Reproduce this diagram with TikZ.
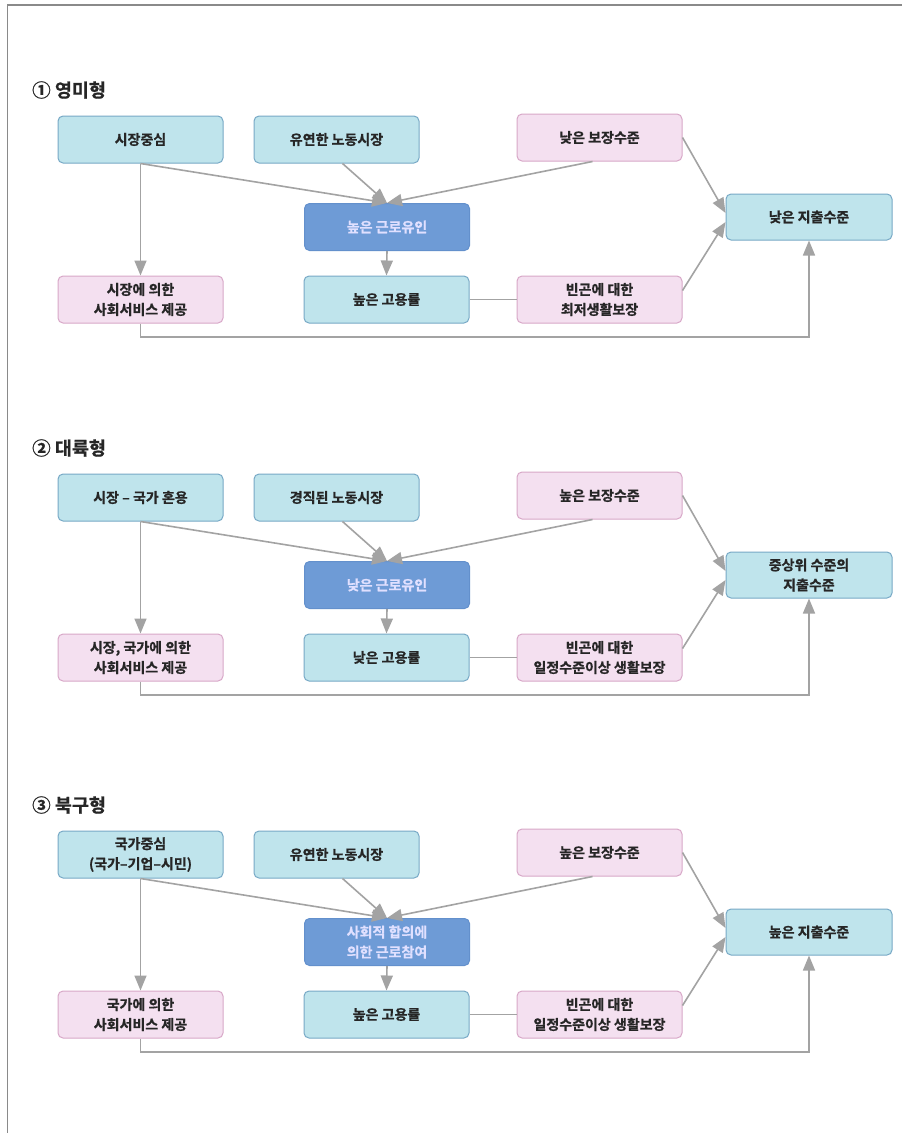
\documentclass[tikz,border=0pt]{standalone}
\usepackage{fontspec}
\setmainfont{Noto Sans CJK KR Bold}[FakeBold=0.8]
\usetikzlibrary{arrows.meta}
\definecolor{cyanfill}{HTML}{BFE4EC}
\definecolor{cyanline}{HTML}{78A9C6}
\definecolor{pinkfill}{HTML}{F4E0F0}
\definecolor{pinkline}{HTML}{D8A8C8}
\definecolor{bluefill}{HTML}{6E9BD6}
\definecolor{blueline}{HTML}{6390CC}
\definecolor{arrowgray}{HTML}{A3A3A3}
\definecolor{txt}{HTML}{262626}
\definecolor{framegray}{HTML}{8A8A8A}
\tikzset{
 box/.style={rounded corners=5pt, minimum width=165pt, minimum height=47pt, align=center,
   font=\fontsize{14}{20}\selectfont, text=txt, line width=1pt, inner sep=2pt},
 cbox/.style={box, fill=cyanfill, draw=cyanline},
 pbox/.style={box, fill=pinkfill, draw=pinkline},
 dbox/.style={box, fill=bluefill, draw=blueline, text=white!88!blue},
 conn/.style={draw=arrowgray, line width=1.6pt},
 arr/.style={conn, -{Triangle[width=12pt,length=15pt]}},
 ttl/.style={anchor=west, font=\fontsize{18.5}{20}\selectfont, text=txt, inner sep=0pt}
}
\begin{document}
\begin{tikzpicture}[x=1pt,y=-1pt]
\useasboundingbox (0,0) rectangle (902,1133);
\fill[white] (0,0) rectangle (902,1133);
\draw[framegray, line width=1.2pt] (902,5) -- (7.5,5) -- (7.5,1133);

% ---------- Panel 1 ----------
\begin{scope}
\node[ttl] (t1) at (32,90) {① 영미형};
\node[cbox] (a1) at (140.5,139.5) {시장중심};
\node[cbox] (b1) at (336.5,139.5) {유연한 노동시장};
\node[pbox] (c1) at (599.5,137.5) {낮은 보장수준};
\node[dbox] (d1) at (387,227) {높은 근로유인};
\node[cbox] (e1) at (386.5,299.5) {높은 고용률};
\node[pbox] (f1) at (140.5,299.5) {시장에 의한\\사회서비스 제공};
\node[pbox] (g1) at (599.5,299.5) {빈곤에 대한\\최저생활보장};
\node[cbox, minimum width=166pt, minimum height=46pt] (h1) at (809,217) {낮은 지출수준};
\coordinate (k1) at (809,337);
\draw[arr] (a1.south) -- (d1.north);
\draw[arr] ([xshift=6pt]b1.south) -- (d1.north);
\draw[arr] ([xshift=-7pt]c1.south) -- (d1.north);
\draw[arr] (a1.south) -- (f1.north);
\draw[arr] (d1.south) -- (e1.north);
\draw[conn] (e1.east) -- (g1.west);
\draw[arr] (c1.east) -- ([yshift=4pt]h1.west);
\draw[arr] ([yshift=9pt]g1.east) -- ([yshift=-5pt]h1.west);
\draw[arr] (f1.south) |- (k1) -- (h1.south);
\end{scope}

% ---------- Panel 2 ----------
\begin{scope}[shift={(0,358)}]
\node[ttl] (t2) at (32,90) {② 대륙형};
\node[cbox] (a2) at (140.5,139.5) {시장 – 국가 혼용};
\node[cbox] (b2) at (336.5,139.5) {경직된 노동시장};
\node[pbox] (c2) at (599.5,137.5) {높은 보장수준};
\node[dbox] (d2) at (387,227) {낮은 근로유인};
\node[cbox] (e2) at (386.5,299.5) {낮은 고용률};
\node[pbox] (f2) at (140.5,299.5) {시장, 국가에 의한\\사회서비스 제공};
\node[pbox] (g2) at (599.5,299.5) {빈곤에 대한\\일정수준이상 생활보장};
\node[cbox, minimum width=166pt, minimum height=46pt] (h2) at (809,217) {중상위 수준의\\지출수준};
\coordinate (k2) at (809,337);
\draw[arr] (a2.south) -- (d2.north);
\draw[arr] ([xshift=6pt]b2.south) -- (d2.north);
\draw[arr] ([xshift=-7pt]c2.south) -- (d2.north);
\draw[arr] (a2.south) -- (f2.north);
\draw[arr] (d2.south) -- (e2.north);
\draw[conn] (e2.east) -- (g2.west);
\draw[arr] (c2.east) -- ([yshift=4pt]h2.west);
\draw[arr] ([yshift=9pt]g2.east) -- ([yshift=-5pt]h2.west);
\draw[arr] (f2.south) |- (k2) -- (h2.south);
\end{scope}

% ---------- Panel 3 ----------
\begin{scope}[shift={(0,715)}]
\node[ttl] (t3) at (32,90) {③ 북구형};
\node[cbox] (a3) at (140.5,139.5) {국가중심\\(국가–기업–시민)};
\node[cbox] (b3) at (336.5,139.5) {유연한 노동시장};
\node[pbox] (c3) at (599.5,137.5) {높은 보장수준};
\node[dbox] (d3) at (387,227) {사회적 합의에\\의한 근로참여};
\node[cbox] (e3) at (386.5,299.5) {높은 고용률};
\node[pbox] (f3) at (140.5,299.5) {국가에 의한\\사회서비스 제공};
\node[pbox] (g3) at (599.5,299.5) {빈곤에 대한\\일정수준이상 생활보장};
\node[cbox, minimum width=166pt, minimum height=46pt] (h3) at (809,217) {높은 지출수준};
\coordinate (k3) at (809,337);
\draw[arr] (a3.south) -- (d3.north);
\draw[arr] ([xshift=6pt]b3.south) -- (d3.north);
\draw[arr] ([xshift=-7pt]c3.south) -- (d3.north);
\draw[arr] (a3.south) -- (f3.north);
\draw[arr] (d3.south) -- (e3.north);
\draw[conn] (e3.east) -- (g3.west);
\draw[arr] (c3.east) -- ([yshift=4pt]h3.west);
\draw[arr] ([yshift=9pt]g3.east) -- ([yshift=-5pt]h3.west);
\draw[arr] (f3.south) |- (k3) -- (h3.south);
\end{scope}
\end{tikzpicture}
\end{document}
